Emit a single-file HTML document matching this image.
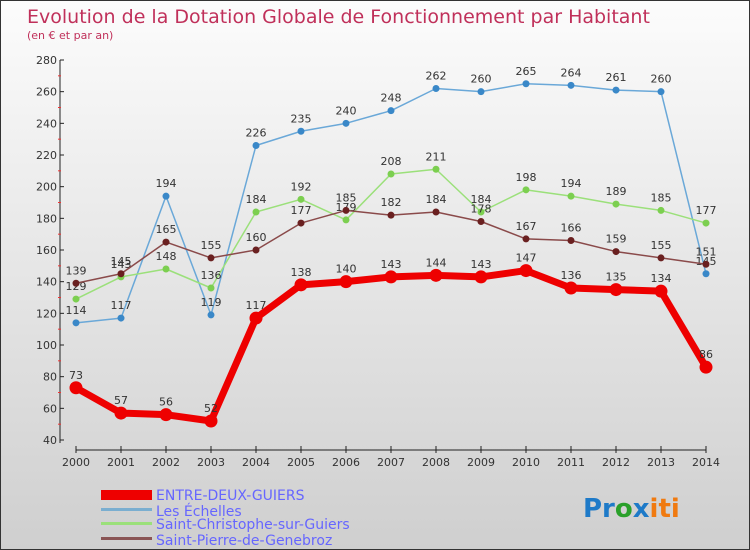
<!DOCTYPE html>
<html><head><meta charset="utf-8"><style>
body{margin:0}
#c{width:748px;height:548px;border:1px solid #333;background:linear-gradient(#fcfcfc,#cfcfcf);position:relative;overflow:hidden;font-family:"DejaVu Sans","Liberation Sans",sans-serif}
svg text{font-family:"DejaVu Sans","Liberation Sans",sans-serif}
</style></head><body>
<div id="c">
<svg id="s" width="748" height="548">
<text x="26" y="22" font-size="19" fill="#c0305a">Evolution de la Dotation Globale de Fonctionnement par Habitant</text>
<text x="26" y="38" font-size="11" fill="#c0305a">(en € et par an)</text>
<g id="axes"></g><g id="series"></g>
<g>
<rect x="100" y="489" width="51" height="10" fill="#e00"/>
<text x="155" y="499" font-size="14" fill="#6666ff">ENTRE-DEUX-GUIERS</text>
<rect x="100" y="507" width="51" height="3" fill="#7aaed0"/>
<text x="155" y="515" font-size="14" fill="#6666ff">Les Échelles</text>
<rect x="100" y="521" width="51" height="3" fill="#9be07a"/>
<text x="155" y="528" font-size="14" fill="#6666ff">Saint-Christophe-sur-Guiers</text>
<rect x="100" y="536" width="51" height="3" fill="#8a5555"/>
<text x="155" y="544" font-size="14" fill="#6666ff">Saint-Pierre-de-Genebroz</text>
</g>
<text x="582" y="516" font-size="26" font-weight="bold"><tspan fill="#1e7ac8">Pr</tspan><tspan fill="#2aa02a">o</tspan><tspan fill="#1e7ac8">x</tspan><tspan fill="#f07a10">iti</tspan></text>
</svg></div>
<script>
const years=[2000,2001,2002,2003,2004,2005,2006,2007,2008,2009,2010,2011,2012,2013,2014];
const yTicks=[40,60,80,100,120,140,160,180,200,220,240,260,280];
const entre=[73,57,56,52,117,138,140,143,144,143,147,136,135,134,86];
const echelles=[114,117,194,119,226,235,240,248,262,260,265,264,261,260,145];
const christophe=[129,143,148,136,184,192,179,208,211,184,198,194,189,185,177];
const pierre=[139,145,165,155,160,177,185,182,184,178,167,166,159,155,151];
const NS="http://www.w3.org/2000/svg";
function X(i){return 75+i*45;}
function Y(v){return 439-(v-40)*(380/240);}
function mk(t,a,p){const e=document.createElementNS(NS,t);for(const k in a)e.setAttribute(k,a[k]);p.appendChild(e);return e;}
const ax=document.getElementById('axes');
let l=mk('line',{x1:59,y1:59,x2:59,y2:442,stroke:'#222'},ax);


l=mk('line',{x1:75,y1:449,x2:705,y2:449,stroke:'#222'},ax);


yTicks.forEach((v,i)=>{mk('line',{x1:59,y1:Y(v),x2:63,y2:Y(v),stroke:'#222'},ax);
 if(i<yTicks.length-1)mk('line',{x1:57,y1:Y(v+10),x2:60,y2:Y(v+10),stroke:'#e33'},ax);
 const t=mk('text',{x:56,y:Y(v)+4,'font-size':11,fill:'#333','text-anchor':'end'},ax);t.textContent=v;
 
 });
years.forEach((y,i)=>{mk('line',{x1:X(i),y1:445,x2:X(i),y2:452,stroke:'#222'},ax);
 const t=mk('text',{x:X(i),y:465,'font-size':11,fill:'#333','text-anchor':'middle'},ax);t.textContent=y;
 
 });
const sg=document.getElementById('series');
function draw(d,col,dot,w,r,name){
 const g=mk('g',{},sg);
 
 
 mk('polyline',{points:d.map((v,i)=>X(i)+','+Y(v)).join(' '),fill:'none',stroke:col,'stroke-width':w,'stroke-linejoin':'round'},g);
 d.forEach((v,i)=>{const c=mk('circle',{cx:X(i),cy:Y(v),r:r,fill:dot},g);
  
  
  const t=mk('text',{x:X(i),y:Y(v)-9,'font-size':11,fill:'#333','text-anchor':'middle'},g);t.textContent=v;
  
  });
}
draw(echelles,'#6aa8d8','#3a88c8',1.5,3.5,'les-echelles');
draw(christophe,'#9be07a','#7ccf50',1.5,3.5,'saint-christophe');
draw(pierre,'#8a4a4a','#6a2020',1.5,3.5,'saint-pierre');
draw(entre,'#ee0000','#ee0000',7,6.5,'entre-deux-guiers');
</script>
</body></html>
